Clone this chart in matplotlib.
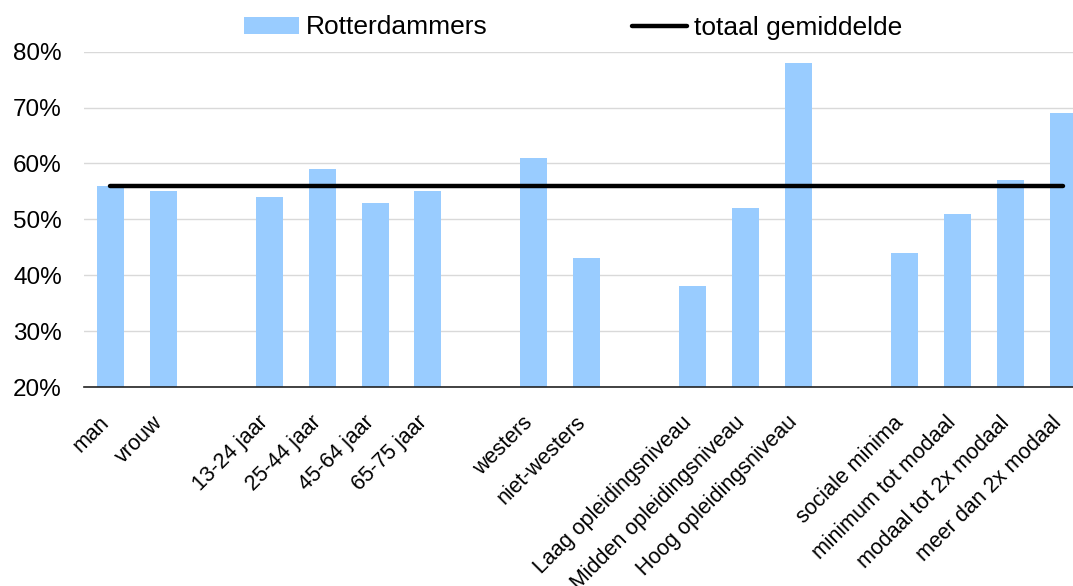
import matplotlib
matplotlib.use('Agg')
import matplotlib.pyplot as plt
import numpy as np

plt.rcParams['font.family'] = ['Liberation Sans', 'DejaVu Sans']

# categories, '' = empty slot between groups
labels = ['man', 'vrouw', '',
          '13-24 jaar', '25-44 jaar', '45-64 jaar', '65-75 jaar', '',
          'westers', 'niet-westers', '',
          'Laag opleidingsniveau', 'Midden opleidingsniveau', 'Hoog opleidingsniveau', '',
          'sociale minima', 'minimum tot modaal', 'modaal tot 2x modaal', 'meer dan 2x modaal']
values = [56, 55, np.nan,
          54, 59, 53, 55, np.nan,
          61, 43, np.nan,
          38, 52, 78, np.nan,
          44, 51, 57, 69]
total_avg = 56

x = np.arange(len(labels))
vals = np.array(values) / 100.0

fig = plt.figure(figsize=(10.73, 5.86), dpi=100)
# right edge of the plot area runs a bit past the image, like the original crop
ax = fig.add_axes([84/1073, 1 - 387/586, (1089.5 - 84)/1073, (387 - 51.6)/586])

bars = ax.bar(x, vals, width=0.51, color='#99ccff', zorder=2, label='Rotterdammers')
line, = ax.plot([x[0], x[-1]], [total_avg/100, total_avg/100], color='black', lw=3.2,
                solid_capstyle='round', zorder=3, label='totaal gemiddelde')

ax.set_ylim(0.2, 0.8)
ax.set_xlim(-0.5, len(labels) - 0.5)
ax.set_yticks(np.arange(0.2, 0.81, 0.1))
ax.set_yticklabels(['{:.0f}%'.format(v*100) for v in np.arange(0.2, 0.81, 0.1)])
ax.yaxis.grid(True, color='#d9d9d9', lw=1, zorder=0)
ax.set_axisbelow(True)

# ticks are invisible; set them a bit left so the slanted labels end left of the bar
ax.set_xticks(x - 0.22)
ax.set_xticklabels(labels, rotation=45, ha='right', rotation_mode='anchor')

for s in ['top', 'right', 'left']:
    ax.spines[s].set_visible(False)
ax.spines['bottom'].set_color('#222222')
ax.spines['bottom'].set_linewidth(1.2)
ax.tick_params(axis='y', length=0, pad=16, labelsize=17.5)
ax.tick_params(axis='x', length=0, pad=18, labelsize=15.5)

fig.legend(handles=[bars, line], loc='center', bbox_to_anchor=(573/1073, 1 - 27.5/586),
           ncol=2, frameon=False, fontsize=19, handlelength=2.08, handleheight=0.64,
           columnspacing=5.5, handletextpad=0.25)

fig.savefig('out.png', dpi=100)
